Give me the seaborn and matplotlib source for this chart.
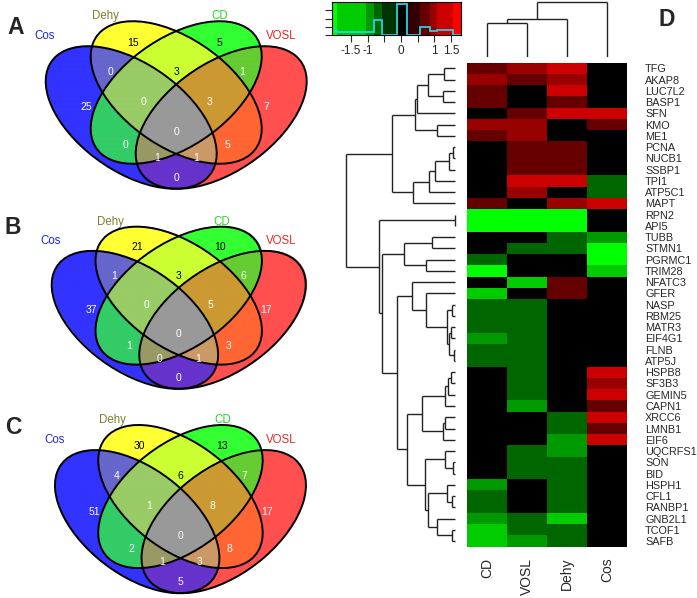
import numpy as np
import pandas as pd
import matplotlib
matplotlib.use("Agg")
import matplotlib.pyplot as plt
import seaborn as sns
from matplotlib.colors import ListedColormap, BoundaryNorm, to_rgb
from matplotlib.patches import Ellipse

sns.set_style("white")
plt.rcParams["font.family"] = ["Liberation Sans", "DejaVu Sans"]
plt.rcParams["axes.unicode_minus"] = False

# ---------------- data ----------------
set_names = ["Cos", "Dehy", "CD", "VOSL"]
set_colors = ["#2424e0", "#7d7d2c", "#2ad42a", "#e02a2a"]

# region membership (Cos, Dehy, CD, VOSL)
region_keys = [(1, 0, 0, 0), (0, 1, 0, 0), (0, 0, 1, 0), (0, 0, 0, 1),
               (1, 1, 0, 0), (0, 1, 1, 0), (0, 0, 1, 1), (1, 0, 1, 0),
               (0, 1, 0, 1), (1, 0, 0, 1), (1, 1, 1, 0), (0, 1, 1, 1),
               (1, 0, 1, 1), (1, 1, 0, 1), (1, 1, 1, 1)]
counts_A = [25, 15, 5, 7, 0, 3, 1, 0, 5, 0, 0, 3, 1, 1, 0]
counts_B = [37, 21, 10, 17, 1, 3, 6, 1, 3, 0, 0, 5, 0, 1, 0]
counts_C = [51, 30, 13, 17, 4, 6, 7, 2, 8, 5, 1, 8, 1, 3, 0]

genes = ["TFG", "AKAP8", "LUC7L2", "BASP1", "SFN", "KMO", "ME1", "PCNA", "NUCB1",
         "SSBP1", "TPI1", "ATP5C1", "MAPT", "RPN2", "API5", "TUBB", "STMN1",
         "PGRMC1", "TRIM28", "NFATC3", "GFER", "NASP", "RBM25", "MATR3", "EIF4G1",
         "FLNB", "ATP5J", "HSPB8", "SF3B3", "GEMIN5", "CAPN1", "XRCC6", "LMNB1",
         "EIF6", "UQCRFS1", "SON", "BID", "HSPH1", "CFL1", "RANBP1", "GNB2L1",
         "TCOF1", "SAFB"]
samples = ["CD", "VOSL", "Dehy", "Cos"]
cd = [0.7, 1.0, 0.7, 0.7, 0, 1.0, 0.7, 0, 0, 0, 0, 0, 0.7, -2.0, -2.0, 0, 0, -0.7,
      -2.0, 0, -1.5, -0.7, -0.7, -0.7, -0.9, -0.7, -0.7, 0, 0, 0, 0, 0, 0, 0, 0, 0,
      0, -0.9, -0.7, -0.7, -0.9, -1.5, -1.5]
vosl = [1.0, 0.7, 0, 0, 0.7, 1.0, 1.0, 0.7, 0.7, 0.7, 1.3, 1.0, 0, -2.0, -2.0, 0,
        -0.7, 0, 0, -1.5, 0, -0.7, -0.7, -0.7, -0.7, -0.7, -0.7, -0.7, -0.7, -0.7,
        -0.9, 0, 0, 0, -0.7, -0.7, -0.7, 0, 0, 0, -0.7, -0.7, -0.9]
dehy = [1.3, 1.0, 1.3, 0.7, 1.3, 0, 0, 0.7, 0.7, 0.7, 1.3, 0, 1.0, -2.0, -2.0, -0.7,
        -0.7, 0, 0, 0.7, 0.7, 0, 0, 0, 0, 0, 0, 0, 0, 0, 0, -0.7, -0.7, -0.9, -0.9,
        -0.7, -0.7, -0.7, -0.7, -0.7, -1.5, -0.7, -0.7]
cos = [0, 0, 0, 0, 1.3, 0.7, 0, 0, 0, 0, -0.7, -0.7, 1.3, 0, 0, -0.9, -2.0, -2.0,
       -1.5, 0, 0, 0, 0, 0, 0, 0, 0, 1.3, 1.0, 1.3, 0.7, 1.3, 0.7, 1.3, 0, 0, 0, 0,
       0, 0, 0, 0, 0]

# hierarchical clustering merges: (child, child, height); merge k is named "m{k}"
row_merges = [
    ("TFG", "AKAP8", 10.7), ("LUC7L2", "BASP1", 11.7), ("m0", "m1", 27.3),
    ("m2", "SFN", 37.7), ("KMO", "ME1", 17.7), ("m3", "m4", 39.7),
    ("PCNA", "NUCB1", 2.5), ("m6", "SSBP1", 6.0), ("m7", "TPI1", 20.0),
    ("m8", "ATP5C1", 26.0), ("m9", "MAPT", 41.7), ("m5", "m10", 62.7),
    ("RPN2", "API5", 0.3), ("TUBB", "STMN1", 23.3), ("PGRMC1", "TRIM28", 29.0),
    ("m13", "m14", 51.0), ("NASP", "RBM25", 3.0), ("MATR3", "EIF4G1", 4.0),
    ("FLNB", "ATP5J", 1.0), ("m17", "m18", 6.0), ("m16", "m19", 8.0),
    ("GFER", "m20", 29.3), ("NFATC3", "m21", 43.3), ("HSPB8", "SF3B3", 4.0),
    ("m23", "GEMIN5", 7.0), ("m24", "CAPN1", 10.0), ("XRCC6", "LMNB1", 10.0),
    ("m26", "EIF6", 11.7), ("m25", "m27", 33.3), ("SON", "BID", 2.5),
    ("UQCRFS1", "m29", 10.0), ("CFL1", "RANBP1", 3.0), ("HSPH1", "m31", 8.3),
    ("TCOF1", "SAFB", 3.0), ("GNB2L1", "m33", 18.3), ("m32", "m34", 27.0),
    ("m30", "m35", 30.0), ("m28", "m36", 47.7), ("m22", "m37", 58.3),
    ("m15", "m38", 73.3), ("m12", "m39", 75.7), ("m11", "m40", 109.0),
]
col_merges = [("CD", "VOSL", 34.3), ("m0", "Dehy", 38.0), ("m1", "Cos", 54.7)]

key_edges = [-2.07, -1.91, -1.04, -0.80, -0.56, -0.11, 0.17, 0.56, 0.86, 1.07, 1.55, 1.8]
key_colors = ["#00ff00", "#00cc00", "#009900", "#006600", "#003300", "#000000",
              "#330000", "#660000", "#990000", "#cc0000", "#ff0000"]

# ---------------- figure ----------------
W, H = 697, 598
fig = plt.figure(figsize=(W / 100, H / 100), dpi=100)


def px_axes(l, t, w, h):
    return fig.add_axes([l / W, 1 - (t + h) / H, w / W, h / H])


# ---------------- Venn diagrams ----------------
ellipses = [(0.35, 0.47, -45), (0.50, 0.57, -45), (0.50, 0.57, 45), (0.65, 0.47, 45)]
EA, EB = 0.35, 0.20
V_LO, V_HI = 0.15, 0.95
region_fill = ["#3333ff", "#ffff33", "#33ff33", "#ff4f4f", "#6666cc", "#ccff33",
               "#66cc33", "#33cc66", "#ff6633", "#6633cc", "#99cc66", "#cc9933",
               "#999966", "#cc9966", "#999999"]
label_pos = [(0.20, 0.51), (0.357, 0.77), (0.643, 0.77), (0.80, 0.51),
             (0.28, 0.652), (0.50, 0.652), (0.72, 0.652), (0.33, 0.36),
             (0.67, 0.36), (0.50, 0.228), (0.39, 0.532), (0.61, 0.532),
             (0.435, 0.308), (0.565, 0.308), (0.50, 0.412)]
dark_labels = {1, 2, 5}
cat_pos = [(0.062, 0.796), (0.265, 0.876), (0.646, 0.876), (0.85, 0.796)]


def inside(u, v, cx, cy, ang):
    t = np.deg2rad(ang)
    du, dv = u - cx, v - cy
    p = du * np.cos(t) + dv * np.sin(t)
    q = -du * np.sin(t) + dv * np.cos(t)
    return (p / EA) ** 2 + (q / EB) ** 2 <= 1


def draw_venn(x0, sx, y0, sy, counts, letter, letter_xy):
    ax = px_axes(x0, y0 - sy * V_HI, sx, sy * (V_HI - V_LO))
    uu, vv = np.meshgrid(np.linspace(0, 1, 900), np.linspace(V_LO, V_HI, 720))
    masks = [inside(uu, vv, *e) for e in ellipses]
    img = np.zeros(uu.shape + (4,))
    for key, col in zip(region_keys, region_fill):
        m = np.ones(uu.shape, bool)
        for mk, k in zip(masks, key):
            m &= mk if k else ~mk
        img[m] = (*to_rgb(col), 1.0)
    ax.imshow(img, extent=(0, 1, V_LO, V_HI), origin="lower", aspect="auto",
              interpolation="bilinear")
    for cx, cy, ang in ellipses:
        ax.add_patch(Ellipse((cx, cy), 2 * EA, 2 * EB, angle=ang, fill=False,
                             ec="black", lw=1.4))
    for i, (n, (u, v)) in enumerate(zip(counts, label_pos)):
        ax.text(u, v, str(n), ha="center", va="center", fontsize=7.5,
                color="black" if i in dark_labels else "white")
    for name, col, (u, v) in zip(set_names, set_colors, cat_pos):
        ax.text(u, v, name, ha="center", va="center", fontsize=8.3, color=col)
    ax.set_xlim(0, 1)
    ax.set_ylim(V_LO, V_HI)
    ax.axis("off")
    fig.text(letter_xy[0] / W, 1 - letter_xy[1] / H, letter, fontsize=16.5,
             fontweight="bold", ha="center", va="center")


draw_venn(26.2, 300, 235, 250, counts_A, "A", (16, 27))
draw_venn(32.7, 292, 433.6, 242, counts_B, "B", (13, 227))
draw_venn(36.2, 288.5, 639.6, 251, counts_C, "C", (13, 428))

# ---------------- heatmap ----------------
df = pd.DataFrame({"CD": cd, "VOSL": vosl, "Dehy": dehy, "Cos": cos}, index=genes)
cmap = ListedColormap(key_colors)
norm = BoundaryNorm(key_edges, cmap.N)

HL, HT, HW, HH = 467, 62.7, 160, 484
ax_h = px_axes(HL, HT, HW, HH)
sns.heatmap(df, ax=ax_h, cmap=cmap, norm=norm, cbar=False,
            xticklabels=True, yticklabels=True)
ax_h.yaxis.tick_right()
ax_h.tick_params(axis="y", length=0, pad=13, labelsize=7.8, labelrotation=0)
ax_h.tick_params(axis="x", length=0, pad=8, labelsize=10)
for t in ax_h.get_xticklabels():
    t.set_rotation(90)
    t.set_va("top")
for t in ax_h.get_yticklabels():
    t.set_ha("left")
ax_h.set_xlabel("")
ax_h.set_ylabel("")


def dendro_segments(leaves, merges):
    pos = {name: i + 0.5 for i, name in enumerate(leaves)}
    hgt = {name: 0.0 for name in leaves}
    segs = []
    for k, (a, b, h) in enumerate(merges):
        for c in (a, b):
            segs.append(([hgt[c], h], [pos[c], pos[c]]))
        segs.append(([h, h], [pos[a], pos[b]]))
        pos[f"m{k}"] = (pos[a] + pos[b]) / 2
        hgt[f"m{k}"] = h
    return segs


ax_r = px_axes(340, HT, 117, HH)
for hs, ps in dendro_segments(genes, row_merges):
    ax_r.plot(hs, ps, color="#222222", lw=1.0, solid_capstyle="butt")
ax_r.set_xlim(115, -2)
ax_r.set_ylim(len(genes), 0)
ax_r.axis("off")

ax_c = px_axes(HL, 0, HW, 57)
for hs, ps in dendro_segments(samples, col_merges):
    ax_c.plot(ps, hs, color="#222222", lw=1.0, solid_capstyle="butt")
ax_c.set_xlim(0, len(samples))
ax_c.set_ylim(0, 57)
ax_c.axis("off")

# ---------------- colour key ----------------
ax_k = px_axes(332, 2, 129, 33)
mids = (np.array(key_edges[:-1]) + np.array(key_edges[1:])) / 2
ax_k.pcolormesh(key_edges, [0, 1], mids[None, :], cmap=cmap, norm=norm)
hist, _ = np.histogram(df.values.ravel(), bins=key_edges)
ax_k.stairs(hist / hist.max() * 0.95, key_edges, color="#22d3e6", lw=1.3)
ax_k.set_xlim(key_edges[0], key_edges[-1])
ax_k.set_ylim(0, 1)
ax_k.set_xticks([-1.5, -1, -0.5, 0, 0.5, 1, 1.5])
ax_k.set_xticklabels(["-1.5", "-1", "", "0", "", "1", "1.5"])
ax_k.set_yticks([0, 0.25, 0.5, 0.75])
ax_k.set_yticklabels([])
ax_k.tick_params(axis="both", direction="out", length=5, width=0.8,
                 labelsize=8.5, pad=2, left=True, bottom=True)
for s in ax_k.spines.values():
    s.set_color("black")
    s.set_linewidth(0.8)

fig.text(667 / W, 1 - 20 / H, "D", fontsize=16.5, fontweight="bold",
         ha="center", va="center")

fig.savefig("out.png", dpi=100)
